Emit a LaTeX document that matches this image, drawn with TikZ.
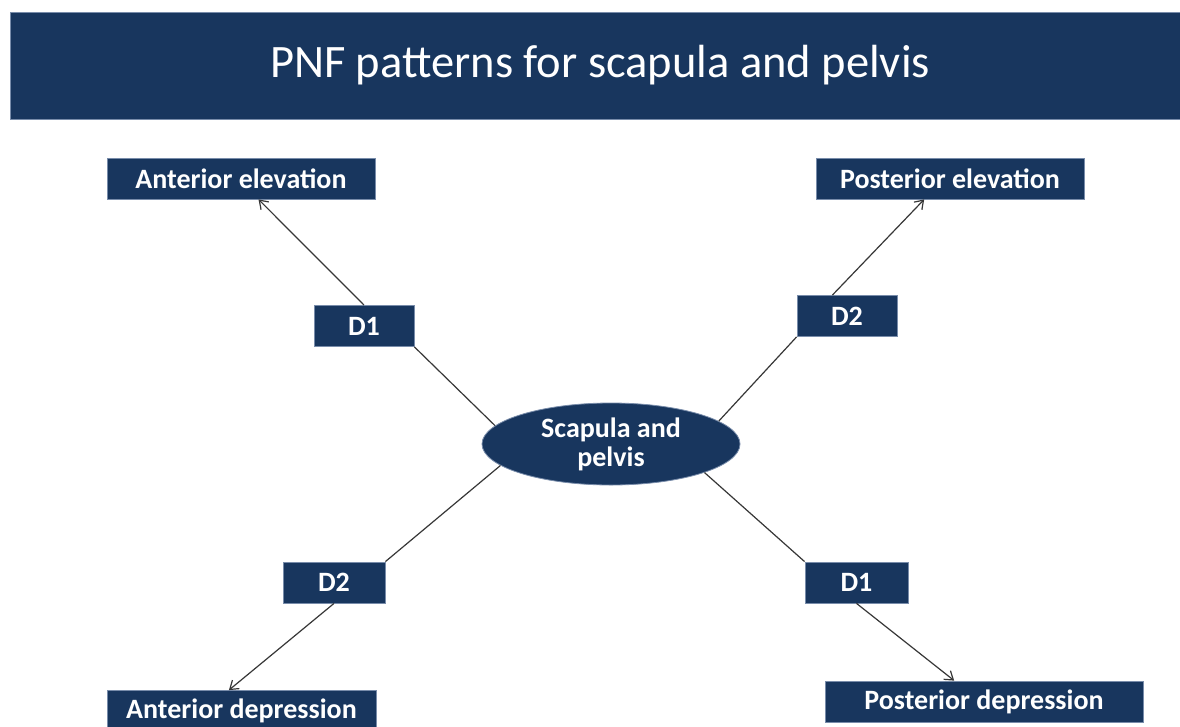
\documentclass[tikz,border=0pt]{standalone}
\usepackage{fontspec}
\setmainfont{Carlito}
\usetikzlibrary{shapes.geometric,arrows.meta}
\definecolor{navy}{RGB}{24,54,94}
\definecolor{edge}{RGB}{120,140,170}
\definecolor{wire}{RGB}{55,55,55}
\tikzset{
  box/.style={rectangle,fill=navy,draw=edge,line width=0.8pt,inner sep=0pt,
    text=white,font=\fontsize{28}{29}\selectfont\bfseries,minimum height=41pt},
  oval/.style={ellipse,fill=navy,draw=edge,line width=0.8pt,inner sep=0pt,
    text=white,font=\fontsize{28}{29}\selectfont\bfseries,align=center,
    minimum width=258pt,minimum height=82pt},
  wireline/.style={draw=wire,line width=1.2pt},
  arrowline/.style={wireline,-{Straight Barb[length=8pt,width=11pt,line width=1.2pt]}}
}
\begin{document}
\begin{tikzpicture}[x=1pt,y=-1pt]
\clip (0,0) rectangle (1180,726);
\fill[white] (0,0) rectangle (1180,726);
\node[fill=navy,draw=edge,line width=0.8pt,minimum width=1180pt,minimum height=107pt,inner sep=0pt,
  text=white,font=\fontsize{46.5}{50}\selectfont] (title) at (600,65.5) {PNF patterns for scapula and pelvis};
\node[box,minimum width=268pt] (ae) at (241,178.5) {Anterior elevation};
\node[box,minimum width=268pt] (pe) at (950,178.5) {Posterior elevation};
\node[box,minimum width=100pt] (d1a) at (364,326) {D1};
\node[box,minimum width=100pt] (d2a) at (847,316) {D2};
\node[oval] (ell) at (611,444) {Scapula and\\pelvis};
\node[box,minimum width=102pt] (d2b) at (334,582.5) {D2};
\node[box,minimum width=103pt] (d1b) at (856.5,582.5) {D1};
\node[box,minimum width=269pt] (ad) at (241.5,711) {Anterior depression};
\node[box,minimum width=318pt] (pd) at (984,701.5) {Posterior depression};
\draw[wireline] (ell.171) -- (d1a.south east);
\draw[arrowline] (d1a.north) -- (ae.-50);
\draw[wireline] (ell.12) -- (d2a.south west);
\draw[arrowline] (d2a.125) -- (pe.219);
\draw[wireline] (ell.191) -- (d2b.north east);
\draw[arrowline] (d2b.south) -- (ad.121);
\draw[wireline] (ell.343) -- (d1b.north west);
\draw[arrowline] (d1b.south) -- (pd.145);
\end{tikzpicture}
\end{document}
